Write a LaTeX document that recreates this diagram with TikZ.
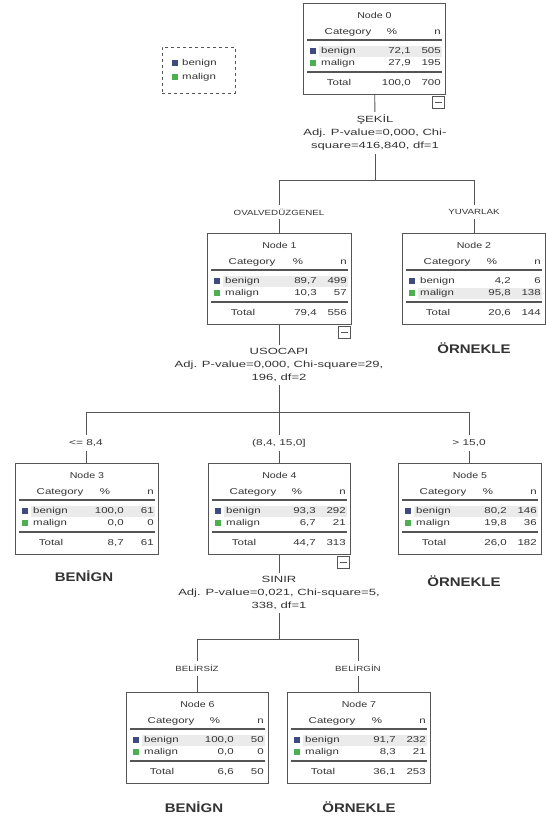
\documentclass[tikz,border=0pt]{standalone}
\usepackage{fontspec}
\setmainfont{Liberation Sans}
\newfontfamily\tabfont[FakeStretch=1.35]{Liberation Sans}
\newfontfamily\titfont[FakeStretch=1.25]{Liberation Sans}
\newfontfamily\statfont[FakeStretch=1.45]{Liberation Sans}
\newfontfamily\labfont[FakeStretch=1.3]{Liberation Sans}
\newfontfamily\rngfont[FakeStretch=1.4]{Liberation Sans}
\newfontfamily\outfont[FakeStretch=1.2]{Liberation Sans}
\usetikzlibrary{calc}
\definecolor{bcol}{HTML}{3F4A80}
\definecolor{mcol}{HTML}{4CAF50}
\definecolor{lcol}{HTML}{555555}
\definecolor{hlcol}{HTML}{EBEBEB}
\tikzset{
  treebox/.style={draw=lcol, line width=0.9pt, inner sep=0pt},
  tt/.style={font=\tabfont\fontsize{8.5}{9}\selectfont, text=black!80, inner sep=0pt, text height=6.5pt, text depth=1.8pt},
  ttitle/.style={tt, font=\titfont\fontsize{8.5}{9}\selectfont},
  rule/.style={draw=lcol, line width=1.1pt},
  sq/.style={minimum size=5.5pt, inner sep=0pt},
  minusbox/.style={draw=lcol, line width=0.8pt, minimum size=12pt, inner sep=0pt},
  stat/.style={font=\statfont\fontsize{9}{13}\selectfont, text=black!80, align=center, inner sep=3pt},
  splitlab/.style={font=\labfont\fontsize{7.5}{8}\selectfont, text=black!80, inner sep=4pt},
  rnglab/.style={font=\rngfont\fontsize{8.5}{9}\selectfont, text=black!80, inner sep=4pt},
  outcome/.style={font=\outfont\fontsize{12.5}{13}\selectfont\bfseries, text=black!80, inner sep=0pt},
  conn/.style={draw=lcol, line width=0.9pt},
}
\newcommand\tbox[5]{%
  \node[treebox, anchor=north west, minimum width=#4pt, minimum height=91pt] (#1) at (#2,#3) {};
  \node[ttitle] (#1-title) at ($(#1.north)+(0,13)$) {Node #5};
  \node[tt] (#1-cat) at ($(#1.north west)+(45,29)$) {Category};
  \node[tt] (#1-pc) at ($(#1.north east)+(-54,29)$) {\%};
  \node[tt, anchor=east] (#1-n) at ($(#1.north east)+(-5,29)$) {n};
  \draw[rule] ($(#1.north west)+(4,37)$) -- ($(#1.north east)+(-4,37)$);
  \draw[rule] ($(#1.north west)+(4,69)$) -- ($(#1.north east)+(-4,69)$);
  \node[tt] (#1-tot) at ($(#1.north west)+(36,80)$) {Total};
}
\newcommand\trows[8]{%
  \ifnum#8=1
    \fill[hlcol] ($(#1.north west)+(16,42.5)$) rectangle ($(#1.north east)+(-4,53.5)$);
  \else
    \fill[hlcol] ($(#1.north west)+(16,54.5)$) rectangle ($(#1.north east)+(-4,65.5)$);
  \fi
  \node[sq, fill=bcol] (#1-bs) at ($(#1.north west)+(10,48)$) {};
  \node[sq, fill=mcol] (#1-ms) at ($(#1.north west)+(10,60)$) {};
  \node[tt, anchor=west] (#1-b) at ($(#1.north west)+(18,48)$) {benign};
  \node[tt, anchor=west] (#1-m) at ($(#1.north west)+(18,60)$) {malign};
  \node[tt, anchor=east] (#1-bp) at ($(#1.north east)+(-35,48)$) {#2};
  \node[tt, anchor=east] (#1-bn) at ($(#1.north east)+(-5,48)$) {#3};
  \node[tt, anchor=east] (#1-mp) at ($(#1.north east)+(-35,60)$) {#4};
  \node[tt, anchor=east] (#1-mn) at ($(#1.north east)+(-5,60)$) {#5};
  \node[tt, anchor=east] (#1-tp) at ($(#1.north east)+(-35,80)$) {#6};
  \node[tt, anchor=east] (#1-tn) at ($(#1.north east)+(-5,80)$) {#7};
}
\newcommand\tminus[1]{%
  \node[minusbox, anchor=north east] (#1-minus) at ($(#1.south east)+(-1,1)$) {};
  \draw[lcol, line width=0.8pt] ($(#1-minus.west)+(3,0)$) -- ($(#1-minus.east)+(-3,0)$);
}
\begin{document}
\begin{tikzpicture}[x=1pt, y=-1pt]
\useasboundingbox[fill=white] (0,0) rectangle (546,820);

% legend
\node[draw=lcol, dashed, line width=0.9pt, minimum width=73pt, minimum height=46pt, anchor=north west, inner sep=0pt] (leg) at (162,47) {};
\node[sq, fill=bcol] (leg-bs) at (175,63) {};
\node[sq, fill=mcol] (leg-ms) at (175,77) {};
\node[tt, anchor=west] (leg-b) at (182,63) {benign};
\node[tt, anchor=west] (leg-m) at (182,77) {malign};

% nodes
\tbox{n0}{303}{3}{142}{0}
\trows{n0}{72,1}{505}{27,9}{195}{100,0}{700}{1}
\tminus{n0}

\tbox{n1}{207}{233}{144}{1}
\trows{n1}{89,7}{499}{10,3}{57}{79,4}{556}{1}
\tminus{n1}

\tbox{n2}{402}{233}{143}{2}
\trows{n2}{4,2}{6}{95,8}{138}{20,6}{144}{2}

\tbox{n3}{15}{463}{143}{3}
\trows{n3}{100,0}{61}{0,0}{0}{8,7}{61}{1}

\tbox{n4}{208}{463}{142}{4}
\trows{n4}{93,3}{292}{6,7}{21}{44,7}{313}{1}
\tminus{n4}

\tbox{n5}{398}{463}{143}{5}
\trows{n5}{80,2}{146}{19,8}{36}{26,0}{182}{1}

\tbox{n6}{126}{692}{142}{6}
\trows{n6}{100,0}{50}{0,0}{0}{6,6}{50}{1}

\tbox{n7}{287}{692}{143}{7}
\trows{n7}{91,7}{232}{8,3}{21}{36,1}{253}{1}

% split 0
\node[stat] (s0) at (375,133) {ŞEKİL\\Adj. P-value=0,000, Chi-\\square=416,840, df=1};
\coordinate (h0l) at (279,180);
\coordinate (h0r) at (474,180);
\draw[conn] (n0) -- (s0);
\draw[conn] (s0) -- (s0 |- h0l);
\draw[conn] (h0l) -- (h0r);
\node[splitlab] (l1) at (279,212) {OVALVEDÜZGENEL};
\node[splitlab] (l2) at (474,212) {YUVARLAK};
\draw[conn] (h0l) -- (l1);
\draw[conn] (l1) -- (l1 |- n1.north);
\draw[conn] (h0r) -- (l2);
\draw[conn] (l2) -- (l2 |- n2.north);

% split 1
\node[stat] (s1) at (279,365) {USOCAPI\\Adj. P-value=0,000, Chi-square=29,\\196, df=2};
\coordinate (h1l) at (86,412);
\coordinate (h1m) at (279,412);
\coordinate (h1r) at (469,412);
\draw[conn] (n1.south -| s1) -- (s1);
\draw[conn] (s1) -- (h1m);
\draw[conn] (h1l) -- (h1r);
\node[rnglab] (l3) at (86,443) {<= 8,4};
\node[rnglab] (l4) at (279,443) {(8,4, 15,0]};
\node[rnglab] (l5) at (469,443) {> 15,0};
\draw[conn] (h1l) -- (l3);
\draw[conn] (l3) -- (l3 |- n3.north);
\draw[conn] (h1m) -- (l4);
\draw[conn] (l4) -- (l4 |- n4.north);
\draw[conn] (h1r) -- (l5);
\draw[conn] (l5) -- (l5 |- n5.north);

% split 4
\node[stat] (s4) at (279,593) {SINIR\\Adj. P-value=0,021, Chi-square=5,\\338, df=1};
\coordinate (h4l) at (197,639);
\coordinate (h4m) at (279,639);
\coordinate (h4r) at (358,639);
\draw[conn] (n4.south -| s4) -- (s4);
\draw[conn] (s4) -- (h4m);
\draw[conn] (h4l) -- (h4r);
\node[splitlab] (l6) at (197,668) {BELİRSİZ};
\node[splitlab] (l7) at (358,668) {BELİRGİN};
\draw[conn] (h4l) -- (l6);
\draw[conn] (l6) -- (l6 |- n6.north);
\draw[conn] (h4r) -- (l7);
\draw[conn] (l7) -- (l7 |- n7.north);

% outcomes
\node[outcome] (o2) at (474,348) {ÖRNEKLE};
\node[outcome] (o3) at (84,576) {BENİGN};
\node[outcome] (o5) at (464,581) {ÖRNEKLE};
\node[outcome] (o6) at (194,807) {BENİGN};
\node[outcome] (o7) at (359,807) {ÖRNEKLE};
\end{tikzpicture}
\end{document}
